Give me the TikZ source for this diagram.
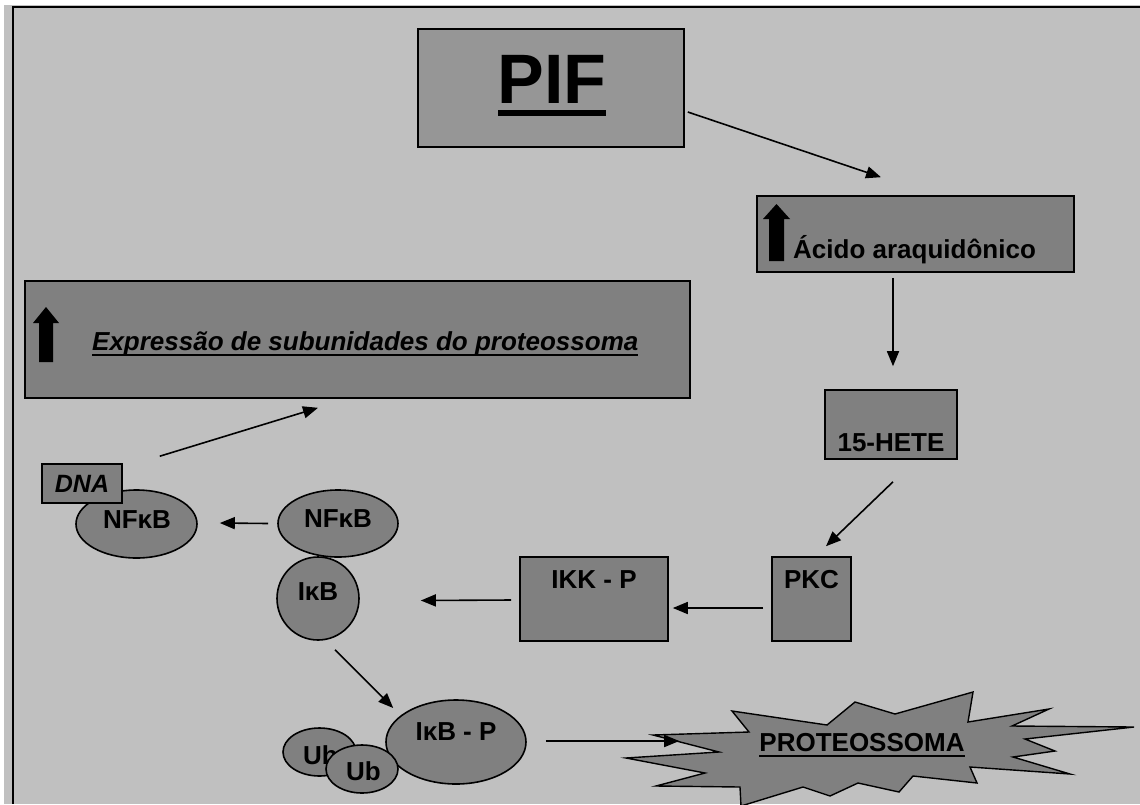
\documentclass[tikz,border=0pt]{standalone}
\usepackage{fontspec}
\setmainfont{Liberation Sans}
\usetikzlibrary{arrows.meta,calc,shapes.geometric}
\definecolor{bg}{HTML}{C0C0C0}
\definecolor{boxgray}{HTML}{808080}
\definecolor{pifgray}{HTML}{969696}
\newcommand\myul[3]{\setbox0\hbox{#3}\rlap{\rule[-#1]{\wd0}{#2}}\box0}
\tikzset{
  box/.style={draw=black,line width=1.6pt,fill=boxgray,rectangle,inner sep=0pt},
  blob/.style={draw=black,line width=1.6pt,fill=boxgray,ellipse,inner sep=0pt},
  lbl/.style={inner sep=0pt,font=\fontsize{26}{30}\selectfont\bfseries},
  arr/.style={line width=1.6pt,-{Triangle[length=15pt,width=12pt]}},
  uparrow/.style={fill=black,draw=none}
}
\begin{document}
\begin{tikzpicture}[x=1pt,y=-1pt]
\useasboundingbox (0,0) rectangle (1140,804);
\fill[white] (0,0) rectangle (1140,804);
\fill[bg] (4,5) rectangle (1140,804);
\draw[line width=2pt] (12,6.5) -- (1140,6.5);
\draw[line width=2pt] (13,6) -- (13,804);

% PIF
\node[box,fill=pifgray,minimum width=266pt,minimum height=118pt] (pif) at (551,88) {};
\node[inner sep=0pt,anchor=base,font=\fontsize{70}{80}\selectfont\bfseries] (piftxt) at (552,103) {\myul{13pt}{6pt}{PIF}};

% Acido araquidonico
\node[box,minimum width=317pt,minimum height=76pt] (acido) at (915.5,234) {};
\fill[uparrow] (776.5,204) -- (790,219) -- (784,219) -- (784,261) -- (769,261) -- (769,219) -- (763,219) -- cycle;
\node[lbl,anchor=base west] (acidotxt) at (793,258) {Ácido araquidônico};

% 15-HETE
\node[box,minimum width=132pt,minimum height=69pt] (hete) at (891,424.5) {};
\node[lbl,anchor=base] (hetetxt) at (891,451) {15-HETE};

% PKC
\node[box,minimum width=79pt,minimum height=84pt] (pkc) at (811.5,599) {};
\node[lbl,anchor=base] (pkctxt) at (811.5,588) {PKC};

% IKK - P
\node[box,minimum width=148pt,minimum height=84pt] (ikk) at (594,599) {};
\node[lbl,anchor=base] (ikktxt) at (594,588) {IKK - P};

% Expressao
\node[box,minimum width=665pt,minimum height=117pt] (expr) at (357.5,339.5) {};
\fill[uparrow] (46,307) -- (59,323) -- (53,323) -- (53,362) -- (39,362) -- (39,323) -- (33,323) -- cycle;
\node[lbl,anchor=base west,font=\fontsize{26}{30}\selectfont\bfseries\itshape] (exprtxt) at (92,350) {\myul{6pt}{2pt}{Expressão de subunidades do proteossoma}};

% NFkB complexes
\node[blob,minimum width=121pt,minimum height=68pt] (nfkbL) at (136.5,524) {};
\node[lbl] (nfkbLtxt) at (137,520) {NFκB};
\node[box,minimum width=80pt,minimum height=39pt] (dna) at (82,483.5) {};
\node[lbl,font=\fontsize{25}{30}\selectfont\bfseries\itshape] (dnatxt) at (82,483.5) {DNA};

\node[blob,minimum width=82pt,minimum height=83pt] (ikb) at (318,598.5) {};
\node[lbl] (ikbtxt) at (318,592) {IκB};
\node[blob,minimum width=120pt,minimum height=67pt] (nfkbR) at (338,523.5) {};
\node[lbl] (nfkbRtxt) at (338,519) {NFκB};

% IkB-P and Ub
\node[blob,minimum width=140pt,minimum height=84pt] (ikbp) at (456,742) {};
\node[lbl,anchor=base] (ikbptxt) at (456,740) {IκB - P};
\node[blob,minimum width=73pt,minimum height=48pt] (ubA) at (319.5,752) {};
\node[lbl,anchor=base west] (ubAtxt) at (303,764) {Ub};
\node[blob,minimum width=72pt,minimum height=48pt] (ubB) at (362,769) {};
\node[lbl,anchor=base west] (ubBtxt) at (346,780) {Ub};

% Proteossoma star
\filldraw[fill=boxgray,draw=black,line width=1.4pt]
 (653,735) -- (749,732) -- (732,711) -- (827,725) -- (855,702) -- (895,714) -- (973,692)
 -- (968,722) -- (1049,709) -- (1012,726) -- (1134,727) -- (1025,739) -- (1055,751)
 -- (1013,757) -- (1070,774) -- (970,767) -- (977,783) -- (913,776) -- (899,792)
 -- (858,783) -- (830,796) -- (803,787) -- (741,806) -- (740,787) -- (656,786)
 -- (705,773) -- (626,758) -- (719,752) -- cycle;
\node[lbl,anchor=base] (prot) at (862,751) {\myul{6pt}{2.5pt}{PROTEOSSOMA}};

% connectors
\draw[arr] ([shift={(3,24)}]pif.east) -- ([shift={(-34.5,-18)}]acido.north);
\draw[arr] ([shift={(-22.5,5)}]acido.south) -- ([shift={(2,-23)}]hete.north);
\draw[arr] ([shift={(2,22)}]hete.south) -- ([shift={(14.5,-10)}]pkc.north);
\draw[arr] ([shift={(-8,9)}]pkc.west) -- ([shift={(4,9)}]ikk.east);
\draw[arr] ([shift={(-8,1)}]ikk.west) -- ([shift={(61,2)}]ikb.east);
\draw[arr] ([shift={(-9,0)}]nfkbR.west) -- ([shift={(22,-1)}]nfkbL.east);
\draw[arr] ([shift={(37,-7)}]dna.north east) -- ([shift={(-39.5,9)}]expr.south);
\draw[arr] ([shift={(17,9)}]ikb.south) -- ([shift={(8,-34)}]ikbp.west);
\draw[arr] ([shift={(19,-1)}]ikbp.east) -- ([shift={(-80,-10)}]prot.base west);
\end{tikzpicture}
\end{document}
